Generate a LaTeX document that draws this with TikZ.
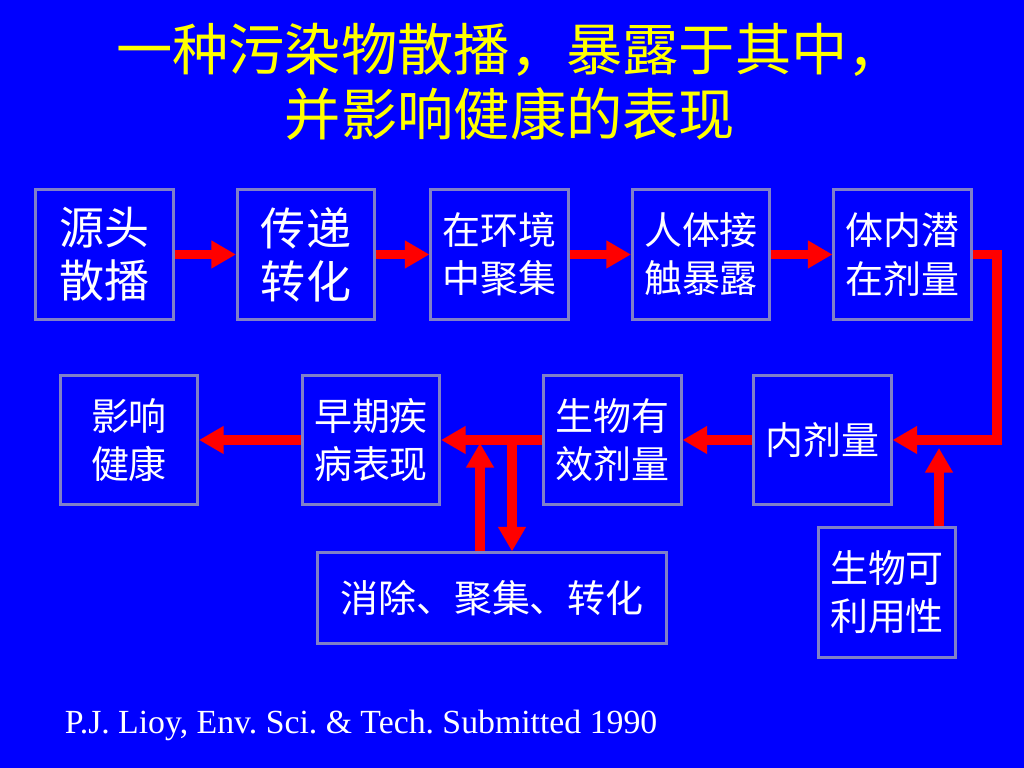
\documentclass[tikz,border=0pt]{standalone}
\usepackage{fontspec}
\setmainfont{Liberation Serif}
\newfontfamily\cjk{Noto Sans CJK SC}
\usetikzlibrary{arrows.meta}
\definecolor{slideblue}{RGB}{0,0,255}
\definecolor{boxline}{RGB}{128,128,200}
\definecolor{flowred}{RGB}{255,0,0}
\definecolor{titleyellow}{RGB}{255,255,0}

\begin{document}
\frenchspacing
\begin{tikzpicture}[x=0.01cm, y=-0.01cm,
    stage/.style={draw=boxline, line width=0.85pt, fill=slideblue, text=white, align=center,
        inner sep=0pt, minimum width=1.37cm, minimum height=1.29cm,
        font=\cjk\fontsize{10.8}{13.7}\selectfont},
    bigstage/.style={stage, font=\cjk\fontsize{12.8}{15}\selectfont},
    flow/.style={draw=flowred, line width=2.6pt, -{Triangle[length=7pt,width=7.5pt]}}]

    % Slide background
    \fill[slideblue] (0,0) rectangle (1024,768);

    % Title
    \node[text=titleyellow, align=center, font=\cjk\fontsize{16}{18.5}\selectfont] (title) at (510,82)
        {一种污染物散播，暴露于其中，\\并影响健康的表现};

    % Top row
    \node[bigstage] (yuantou) at (104.5,254.5) {源头\\散播};
    \node[bigstage] (chuandi) at (306,254.5) {传递\\转化};
    \node[stage] (huanjing) at (499.5,254.5) {在环境\\中聚集};
    \node[stage] (jiechu) at (701,254.5) {人体接\\触暴露};
    \node[stage] (qianzai) at (902.5,254.5) {体内潜\\在剂量};

    % Middle row
    \node[stage] (yingxiang) at (129,440) {影响\\健康};
    \node[stage] (jibing) at (371,440) {早期疾\\病表现};
    \node[stage] (youxiao) at (612.5,440) {生物有\\效剂量};
    \node[stage] (neiji) at (822.5,440) {内剂量};

    % Bottom row
    \node[stage, minimum width=3.48cm, minimum height=0.9cm] (xiaochu) at (492,598) {消除、聚集、转化};
    \node[stage] (liyong) at (887,592.5) {生物可\\利用性};

    % Arrows along the chain
    \draw[flow] (yuantou) -- (chuandi);
    \draw[flow] (chuandi) -- (huanjing);
    \draw[flow] (huanjing) -- (jiechu);
    \draw[flow] (jiechu) -- (qianzai);
    \coordinate (turn) at (997,254.5);
    \draw[flow] (qianzai.east) -- (turn) |- (neiji.east);
    \draw[flow] (neiji) -- (youxiao);
    \draw[flow] (youxiao) -- (jibing);
    \draw[flow] (jibing) -- (yingxiang);

    % Side inputs
    \coordinate (uptip) at (939,448);
    \draw[flow] (liyong.north -| uptip) -- (uptip);
    \coordinate (backtip) at (480,443);
    \draw[flow] (xiaochu.north -| backtip) -- (backtip);
    \coordinate (outstart) at (512,440);
    \draw[flow] (outstart) -- (xiaochu.north -| outstart);

    % Reference
    \node[text=white, font=\fontsize{9.6}{11}\selectfont] (source) at (361,725)
        {P.J. Lioy, Env. Sci. \& Tech. Submitted 1990};

\end{tikzpicture}
\end{document}
